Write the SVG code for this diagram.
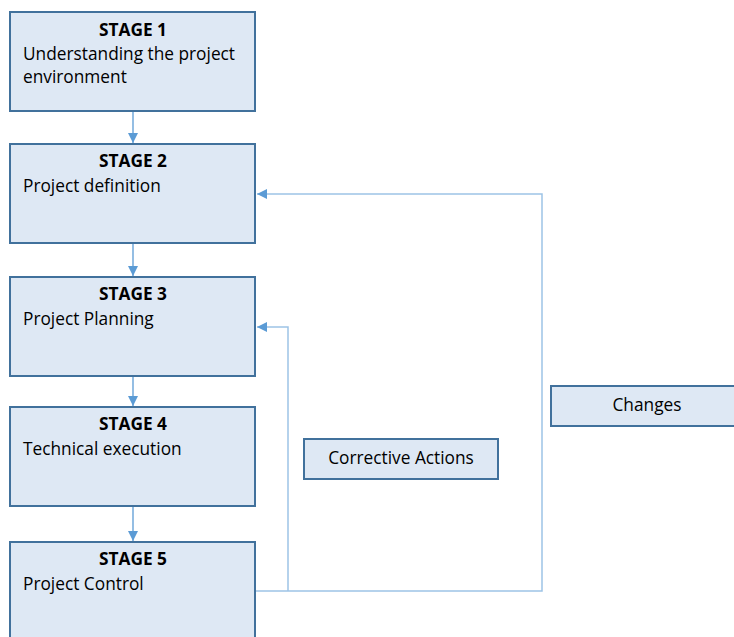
<svg xmlns="http://www.w3.org/2000/svg" width="734" height="637" viewBox="0 0 734 637">
<style>
.box{fill:#dee8f4;stroke:#41719c;stroke-width:2}
.t{font-family:"Open Sans","Liberation Sans",sans-serif;font-size:17.3px;fill:#000}
.b{font-weight:bold;text-anchor:middle}
.c{text-anchor:middle}
.conn{stroke:#5b9bd5;stroke-width:1.3;fill:none}
.fb{stroke:#9dc3e6;stroke-width:1.5;fill:none}
</style>
<defs>
<marker id="ah" markerWidth="10" markerHeight="10" refX="10" refY="5" orient="auto" markerUnits="userSpaceOnUse">
<path d="M0,0 L10,5 L0,10 Z" fill="#5b9bd5"/>
</marker>
</defs>
<g id="connectors">
<line class="conn" x1="133" y1="111" x2="133" y2="143" marker-end="url(#ah)"/>
<line class="conn" x1="133" y1="243" x2="133" y2="276" marker-end="url(#ah)"/>
<line class="conn" x1="133" y1="377" x2="133" y2="406" marker-end="url(#ah)"/>
<line class="conn" x1="133" y1="507" x2="133" y2="541" marker-end="url(#ah)"/>
<path class="fb" d="M256,591 H542 V194 H257" marker-end="url(#ah)"/>
<path class="fb" d="M288,591 V327 H257" marker-end="url(#ah)"/>
</g>
<g id="stage1">
<rect class="box" x="10" y="12" width="245" height="99"/>
<text class="t b" x="133" y="36">STAGE 1</text>
<text class="t" x="23" y="60">Understanding the project</text>
<text class="t" x="23" y="83">environment</text>
</g>
<g id="stage2">
<rect class="box" x="10" y="144" width="245" height="99"/>
<text class="t b" x="133" y="167">STAGE 2</text>
<text class="t" x="23" y="192">Project definition</text>
</g>
<g id="stage3">
<rect class="box" x="10" y="277" width="245" height="99"/>
<text class="t b" x="133" y="300">STAGE 3</text>
<text class="t" x="23" y="325">Project Planning</text>
</g>
<g id="stage4">
<rect class="box" x="10" y="407" width="245" height="99"/>
<text class="t b" x="133" y="430">STAGE 4</text>
<text class="t" x="23" y="455">Technical execution</text>
</g>
<g id="stage5">
<rect class="box" x="10" y="542" width="245" height="110"/>
<text class="t b" x="133" y="565">STAGE 5</text>
<text class="t" x="23" y="590">Project Control</text>
</g>
<g id="corrective">
<rect class="box" x="304" y="439" width="194" height="40"/>
<text class="t c" x="401" y="464">Corrective Actions</text>
</g>
<g id="changes">
<rect class="box" x="551" y="386" width="200" height="40"/>
<text class="t c" x="647" y="411">Changes</text>
</g>
</svg>
